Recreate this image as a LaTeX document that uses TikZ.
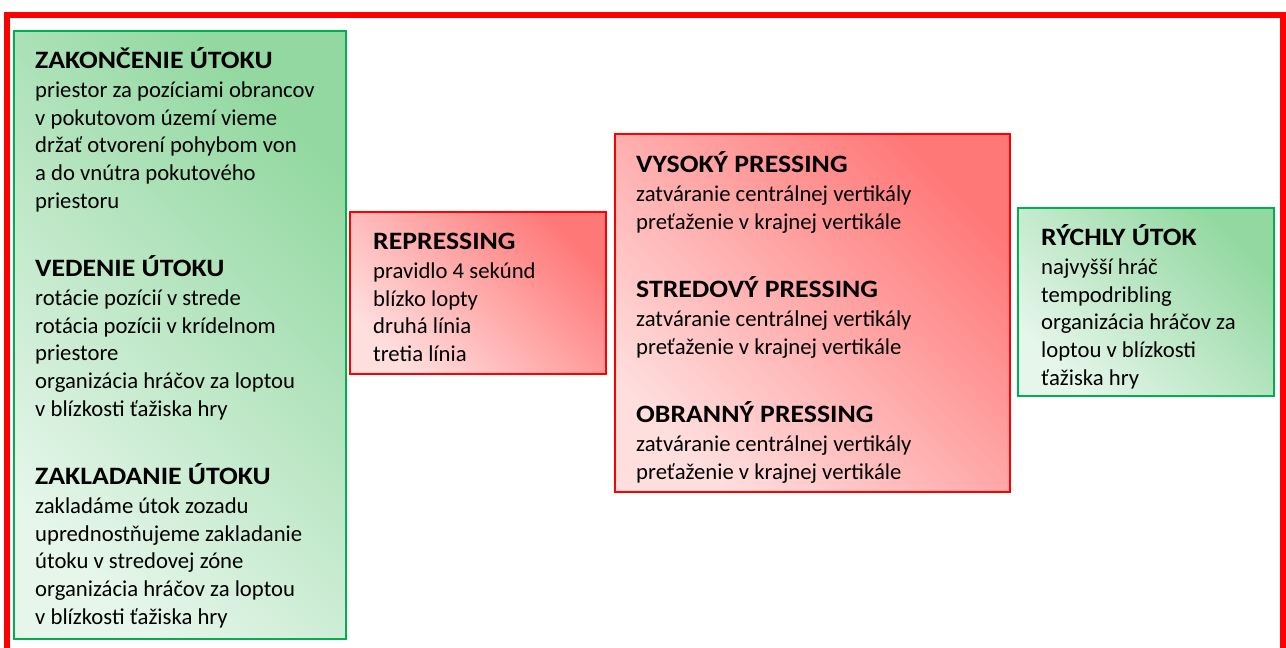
\documentclass[tikz,border=0pt]{standalone}
\usepackage{fontspec}
\setmainfont{Carlito}
\newfontfamily\headfont[FakeStretch=1.11]{Carlito}
\definecolor{frame}{RGB}{255,0,0}
\definecolor{gedge}{RGB}{0,176,80}
\definecolor{gdark}{RGB}{146,216,160}
\definecolor{glight}{RGB}{230,246,235}
\definecolor{rdark}{RGB}{255,120,120}
\definecolor{rlight}{RGB}{255,222,222}
\begin{document}
\begin{tikzpicture}[x=1pt,y=-1pt,
  greenbox/.style={draw=gedge, line width=2.4pt, anchor=north west, inner sep=0pt, outer sep=0pt,
    shading=axis, left color=glight, right color=gdark, shading angle=135},
  redbox/.style={draw=frame, line width=2pt, anchor=north west, inner sep=0pt, outer sep=0pt,
    shading=axis, left color=rlight, right color=rdark, shading angle=135},
  % multi-line text: the node's base is the baseline of its last line
  txt/.style={anchor=base west, align=left, inner sep=0pt, text=black,
    font=\fontsize{22.7}{27.6}\selectfont}]
\newcommand{\hd}[1]{{\headfont\bfseries\fontsize{25}{27.6}\selectfont #1}\\[2pt]}
\useasboundingbox (0,0) rectangle (1286,648);
\fill[white] (0,0) rectangle (1286,648);
% outer frame, open at the bottom edge of the page
\draw[frame, line width=6pt] (6.5,660) -- (6.5,14.5) -- (1282.5,14.5) -- (1282.5,660);

% boxes
\node[greenbox, minimum width=332pt, minimum height=608pt] (attack) at (14,31) {};
\node[redbox, minimum width=256pt, minimum height=162pt] (repress) at (350,212) {};
\node[redbox, minimum width=395pt, minimum height=358pt] (press) at (615,134) {};
\node[greenbox, minimum width=256pt, minimum height=188pt] (fast) at (1018,208) {};

% attack phases
\node[txt] (finish) at (35,208) {\hd{ZAKONČENIE ÚTOKU}priestor za pozíciami obrancov\\v pokutovom území vieme\\držať otvorení pohybom von\\a do vnútra pokutového\\priestoru};
\node[txt] (lead) at (35,416) {\hd{VEDENIE ÚTOKU}rotácie pozícií v strede\\rotácia pozícii v krídelnom\\priestore\\organizácia hráčov za loptou\\v blízkosti ťažiska hry};
\node[txt] (build) at (35,624) {\hd{ZAKLADANIE ÚTOKU}zakladáme útok zozadu\\uprednostňujeme zakladanie\\útoku v stredovej zóne\\organizácia hráčov za loptou\\v blízkosti ťažiska hry};

% repressing
\node[txt] (rep) at (373,361.4) {\hd{REPRESSING}pravidlo 4 sekúnd\\blízko lopty\\druhá línia\\tretia línia};

% pressing variants
\node[txt] (high) at (636,229.2) {\hd{VYSOKÝ PRESSING}zatváranie centrálnej vertikály\\preťaženie v krajnej vertikále};
\node[txt] (mid) at (636,354.2) {\hd{STREDOVÝ PRESSING}zatváranie centrálnej vertikály\\preťaženie v krajnej vertikále};
\node[txt] (low) at (636,479.2) {\hd{OBRANNÝ PRESSING}zatváranie centrálnej vertikály\\preťaženie v krajnej vertikále};

% fast attack
\node[txt] (quick) at (1041,385) {\hd{RÝCHLY ÚTOK}najvyšší hráč\\tempodribling\\organizácia hráčov za\\loptou v blízkosti\\ťažiska hry};
\end{tikzpicture}
\end{document}
